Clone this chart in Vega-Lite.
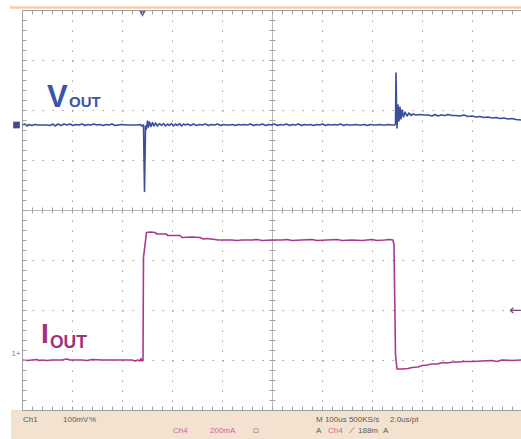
{
  "$schema": "https://vega.github.io/schema/vega-lite/v6.json",
  "width": 499,
  "height": 400,
  "autosize": "none",
  "padding": {"left": 22, "top": 10, "right": 0, "bottom": 29},
  "background": "white",
  "config": {
    "view": {"stroke": null},
    "axis": {"labels": false, "title": null, "grid": false, "ticks": false, "domain": false}
  },
  "datasets": {
    "traces": [
      {"series": "Vout", "t": 0, "v": 1.70}, {"series": "Vout", "t": 6, "v": 1.72}, {"series": "Vout", "t": 10, "v": 1.68}, {"series": "Vout", "t": 14, "v": 1.71}, {"series": "Vout", "t": 20, "v": 1.69}, {"series": "Vout", "t": 26, "v": 1.71}, {"series": "Vout", "t": 32, "v": 1.70}, {"series": "Vout", "t": 40, "v": 1.70}, {"series": "Vout", "t": 50, "v": 1.70}, {"series": "Vout", "t": 56, "v": 1.69}, {"series": "Vout", "t": 62, "v": 1.72}, {"series": "Vout", "t": 66, "v": 1.68}, {"series": "Vout", "t": 72, "v": 1.72}, {"series": "Vout", "t": 78, "v": 1.69}, {"series": "Vout", "t": 84, "v": 1.72}, {"series": "Vout", "t": 90, "v": 1.70}, {"series": "Vout", "t": 96, "v": 1.72}, {"series": "Vout", "t": 102, "v": 1.69}, {"series": "Vout", "t": 108, "v": 1.71}, {"series": "Vout", "t": 114, "v": 1.70}, {"series": "Vout", "t": 120, "v": 1.72}, {"series": "Vout", "t": 126, "v": 1.69}, {"series": "Vout", "t": 132, "v": 1.71}, {"series": "Vout", "t": 138, "v": 1.70}, {"series": "Vout", "t": 144, "v": 1.72}, {"series": "Vout", "t": 150, "v": 1.70}, {"series": "Vout", "t": 156, "v": 1.71}, {"series": "Vout", "t": 162, "v": 1.69}, {"series": "Vout", "t": 168, "v": 1.71}, {"series": "Vout", "t": 174, "v": 1.70}, {"series": "Vout", "t": 180, "v": 1.72}, {"series": "Vout", "t": 186, "v": 1.69}, {"series": "Vout", "t": 192, "v": 1.70}, {"series": "Vout", "t": 200, "v": 1.71}, {"series": "Vout", "t": 210, "v": 1.70}, {"series": "Vout", "t": 220, "v": 1.70}, {"series": "Vout", "t": 230, "v": 1.70}, {"series": "Vout", "t": 236, "v": 1.71}, {"series": "Vout", "t": 240, "v": 1.68}, {"series": "Vout", "t": 243, "v": 1.70}, {"series": "Vout", "t": 245, "v": 0.37}, {"series": "Vout", "t": 247, "v": 1.68}, {"series": "Vout", "t": 249, "v": 1.62}, {"series": "Vout", "t": 251, "v": 1.78}, {"series": "Vout", "t": 253, "v": 1.66}, {"series": "Vout", "t": 255, "v": 1.76}, {"series": "Vout", "t": 258, "v": 1.67}, {"series": "Vout", "t": 261, "v": 1.75}, {"series": "Vout", "t": 264, "v": 1.68}, {"series": "Vout", "t": 267, "v": 1.74}, {"series": "Vout", "t": 271, "v": 1.68}, {"series": "Vout", "t": 275, "v": 1.73}, {"series": "Vout", "t": 279, "v": 1.69}, {"series": "Vout", "t": 283, "v": 1.73}, {"series": "Vout", "t": 287, "v": 1.68}, {"series": "Vout", "t": 291, "v": 1.72}, {"series": "Vout", "t": 295, "v": 1.69}, {"series": "Vout", "t": 299, "v": 1.73}, {"series": "Vout", "t": 303, "v": 1.68}, {"series": "Vout", "t": 307, "v": 1.72}, {"series": "Vout", "t": 311, "v": 1.69}, {"series": "Vout", "t": 315, "v": 1.73}, {"series": "Vout", "t": 319, "v": 1.68}, {"series": "Vout", "t": 323, "v": 1.72}, {"series": "Vout", "t": 327, "v": 1.70}, {"series": "Vout", "t": 331, "v": 1.72}, {"series": "Vout", "t": 337, "v": 1.69}, {"series": "Vout", "t": 343, "v": 1.72}, {"series": "Vout", "t": 349, "v": 1.69}, {"series": "Vout", "t": 355, "v": 1.71}, {"series": "Vout", "t": 361, "v": 1.70}, {"series": "Vout", "t": 367, "v": 1.72}, {"series": "Vout", "t": 373, "v": 1.69}, {"series": "Vout", "t": 379, "v": 1.71}, {"series": "Vout", "t": 385, "v": 1.70}, {"series": "Vout", "t": 391, "v": 1.72}, {"series": "Vout", "t": 397, "v": 1.69}, {"series": "Vout", "t": 403, "v": 1.71}, {"series": "Vout", "t": 409, "v": 1.70}, {"series": "Vout", "t": 415, "v": 1.70}, {"series": "Vout", "t": 421, "v": 1.71}, {"series": "Vout", "t": 427, "v": 1.69}, {"series": "Vout", "t": 433, "v": 1.71}, {"series": "Vout", "t": 439, "v": 1.70}, {"series": "Vout", "t": 445, "v": 1.71}, {"series": "Vout", "t": 451, "v": 1.70}, {"series": "Vout", "t": 457, "v": 1.72}, {"series": "Vout", "t": 463, "v": 1.69}, {"series": "Vout", "t": 469, "v": 1.71}, {"series": "Vout", "t": 475, "v": 1.70}, {"series": "Vout", "t": 481, "v": 1.72}, {"series": "Vout", "t": 487, "v": 1.69}, {"series": "Vout", "t": 493, "v": 1.71}, {"series": "Vout", "t": 499, "v": 1.70}, {"series": "Vout", "t": 505, "v": 1.72}, {"series": "Vout", "t": 511, "v": 1.69}, {"series": "Vout", "t": 517, "v": 1.71}, {"series": "Vout", "t": 523, "v": 1.70}, {"series": "Vout", "t": 529, "v": 1.72}, {"series": "Vout", "t": 535, "v": 1.69}, {"series": "Vout", "t": 541, "v": 1.71}, {"series": "Vout", "t": 547, "v": 1.70}, {"series": "Vout", "t": 553, "v": 1.72}, {"series": "Vout", "t": 559, "v": 1.69}, {"series": "Vout", "t": 565, "v": 1.71}, {"series": "Vout", "t": 571, "v": 1.70}, {"series": "Vout", "t": 577, "v": 1.71}, {"series": "Vout", "t": 583, "v": 1.69}, {"series": "Vout", "t": 589, "v": 1.71}, {"series": "Vout", "t": 595, "v": 1.70}, {"series": "Vout", "t": 601, "v": 1.72}, {"series": "Vout", "t": 607, "v": 1.69}, {"series": "Vout", "t": 613, "v": 1.71}, {"series": "Vout", "t": 619, "v": 1.70}, {"series": "Vout", "t": 625, "v": 1.71}, {"series": "Vout", "t": 631, "v": 1.70}, {"series": "Vout", "t": 637, "v": 1.72}, {"series": "Vout", "t": 643, "v": 1.69}, {"series": "Vout", "t": 649, "v": 1.71}, {"series": "Vout", "t": 655, "v": 1.70}, {"series": "Vout", "t": 661, "v": 1.70}, {"series": "Vout", "t": 667, "v": 1.71}, {"series": "Vout", "t": 673, "v": 1.70}, {"series": "Vout", "t": 679, "v": 1.70}, {"series": "Vout", "t": 685, "v": 1.71}, {"series": "Vout", "t": 691, "v": 1.69}, {"series": "Vout", "t": 697, "v": 1.71}, {"series": "Vout", "t": 703, "v": 1.70}, {"series": "Vout", "t": 709, "v": 1.70}, {"series": "Vout", "t": 715, "v": 1.71}, {"series": "Vout", "t": 721, "v": 1.70}, {"series": "Vout", "t": 727, "v": 1.70}, {"series": "Vout", "t": 733, "v": 1.71}, {"series": "Vout", "t": 739, "v": 1.70}, {"series": "Vout", "t": 745, "v": 1.70},
      {"series": "Vout", "t": 747, "v": 1.72}, {"series": "Vout", "t": 748, "v": 2.74}, {"series": "Vout", "t": 749, "v": 2.10}, {"series": "Vout", "t": 750, "v": 1.64}, {"series": "Vout", "t": 752, "v": 2.10}, {"series": "Vout", "t": 754, "v": 1.78}, {"series": "Vout", "t": 756, "v": 2.06}, {"series": "Vout", "t": 758, "v": 1.82}, {"series": "Vout", "t": 760, "v": 2.00}, {"series": "Vout", "t": 763, "v": 1.86}, {"series": "Vout", "t": 766, "v": 1.96}, {"series": "Vout", "t": 770, "v": 1.88}, {"series": "Vout", "t": 774, "v": 1.94}, {"series": "Vout", "t": 778, "v": 1.89}, {"series": "Vout", "t": 782, "v": 1.92}, {"series": "Vout", "t": 788, "v": 1.90}, {"series": "Vout", "t": 796, "v": 1.91}, {"series": "Vout", "t": 804, "v": 1.90}, {"series": "Vout", "t": 812, "v": 1.90}, {"series": "Vout", "t": 820, "v": 1.88}, {"series": "Vout", "t": 826, "v": 1.91}, {"series": "Vout", "t": 832, "v": 1.88}, {"series": "Vout", "t": 838, "v": 1.90}, {"series": "Vout", "t": 846, "v": 1.89}, {"series": "Vout", "t": 852, "v": 1.91}, {"series": "Vout", "t": 860, "v": 1.89}, {"series": "Vout", "t": 868, "v": 1.89}, {"series": "Vout", "t": 876, "v": 1.88}, {"series": "Vout", "t": 884, "v": 1.90}, {"series": "Vout", "t": 892, "v": 1.87}, {"series": "Vout", "t": 900, "v": 1.88}, {"series": "Vout", "t": 908, "v": 1.86}, {"series": "Vout", "t": 916, "v": 1.87}, {"series": "Vout", "t": 924, "v": 1.85}, {"series": "Vout", "t": 932, "v": 1.86}, {"series": "Vout", "t": 940, "v": 1.84}, {"series": "Vout", "t": 948, "v": 1.85}, {"series": "Vout", "t": 956, "v": 1.83}, {"series": "Vout", "t": 964, "v": 1.84}, {"series": "Vout", "t": 972, "v": 1.82}, {"series": "Vout", "t": 980, "v": 1.83}, {"series": "Vout", "t": 988, "v": 1.81}, {"series": "Vout", "t": 998, "v": 1.80},
      {"series": "Iout", "t": 0, "v": -3.00}, {"series": "Iout", "t": 10, "v": -3.01}, {"series": "Iout", "t": 20, "v": -3.00}, {"series": "Iout", "t": 30, "v": -2.99}, {"series": "Iout", "t": 34, "v": -3.01}, {"series": "Iout", "t": 40, "v": -3.00}, {"series": "Iout", "t": 50, "v": -3.01}, {"series": "Iout", "t": 60, "v": -3.00}, {"series": "Iout", "t": 80, "v": -3.00}, {"series": "Iout", "t": 90, "v": -2.98}, {"series": "Iout", "t": 96, "v": -3.00}, {"series": "Iout", "t": 120, "v": -3.00}, {"series": "Iout", "t": 130, "v": -3.01}, {"series": "Iout", "t": 140, "v": -2.99}, {"series": "Iout", "t": 160, "v": -3.00}, {"series": "Iout", "t": 180, "v": -3.00}, {"series": "Iout", "t": 200, "v": -3.00}, {"series": "Iout", "t": 220, "v": -3.00}, {"series": "Iout", "t": 226, "v": -3.02}, {"series": "Iout", "t": 232, "v": -3.00}, {"series": "Iout", "t": 236, "v": -3.02}, {"series": "Iout", "t": 238, "v": -2.97}, {"series": "Iout", "t": 240, "v": -3.02}, {"series": "Iout", "t": 242, "v": -3.00}, {"series": "Iout", "t": 243, "v": -0.95}, {"series": "Iout", "t": 249, "v": -0.45}, {"series": "Iout", "t": 256, "v": -0.44}, {"series": "Iout", "t": 266, "v": -0.45}, {"series": "Iout", "t": 270, "v": -0.48}, {"series": "Iout", "t": 288, "v": -0.48}, {"series": "Iout", "t": 292, "v": -0.51}, {"series": "Iout", "t": 316, "v": -0.51}, {"series": "Iout", "t": 320, "v": -0.55}, {"series": "Iout", "t": 340, "v": -0.54}, {"series": "Iout", "t": 356, "v": -0.55}, {"series": "Iout", "t": 362, "v": -0.58}, {"series": "Iout", "t": 370, "v": -0.57}, {"series": "Iout", "t": 386, "v": -0.59}, {"series": "Iout", "t": 392, "v": -0.60}, {"series": "Iout", "t": 420, "v": -0.60}, {"series": "Iout", "t": 430, "v": -0.61}, {"series": "Iout", "t": 440, "v": -0.60}, {"series": "Iout", "t": 460, "v": -0.60}, {"series": "Iout", "t": 470, "v": -0.59}, {"series": "Iout", "t": 480, "v": -0.61}, {"series": "Iout", "t": 500, "v": -0.60}, {"series": "Iout", "t": 520, "v": -0.60}, {"series": "Iout", "t": 530, "v": -0.59}, {"series": "Iout", "t": 540, "v": -0.61}, {"series": "Iout", "t": 560, "v": -0.60}, {"series": "Iout", "t": 580, "v": -0.59}, {"series": "Iout", "t": 590, "v": -0.61}, {"series": "Iout", "t": 610, "v": -0.60}, {"series": "Iout", "t": 630, "v": -0.59}, {"series": "Iout", "t": 640, "v": -0.61}, {"series": "Iout", "t": 660, "v": -0.60}, {"series": "Iout", "t": 680, "v": -0.61}, {"series": "Iout", "t": 700, "v": -0.59}, {"series": "Iout", "t": 710, "v": -0.61}, {"series": "Iout", "t": 725, "v": -0.60}, {"series": "Iout", "t": 735, "v": -0.59}, {"series": "Iout", "t": 742, "v": -0.60},
      {"series": "Iout", "t": 744, "v": -0.70}, {"series": "Iout", "t": 747, "v": -2.90}, {"series": "Iout", "t": 750, "v": -3.18}, {"series": "Iout", "t": 760, "v": -3.18}, {"series": "Iout", "t": 772, "v": -3.17}, {"series": "Iout", "t": 780, "v": -3.15}, {"series": "Iout", "t": 792, "v": -3.14}, {"series": "Iout", "t": 800, "v": -3.11}, {"series": "Iout", "t": 810, "v": -3.10}, {"series": "Iout", "t": 820, "v": -3.08}, {"series": "Iout", "t": 830, "v": -3.08}, {"series": "Iout", "t": 842, "v": -3.05}, {"series": "Iout", "t": 850, "v": -3.06}, {"series": "Iout", "t": 862, "v": -3.04}, {"series": "Iout", "t": 872, "v": -3.04}, {"series": "Iout", "t": 884, "v": -3.03}, {"series": "Iout", "t": 902, "v": -3.03}, {"series": "Iout", "t": 920, "v": -3.02}, {"series": "Iout", "t": 940, "v": -3.01}, {"series": "Iout", "t": 950, "v": -3.03}, {"series": "Iout", "t": 960, "v": -3.00}, {"series": "Iout", "t": 980, "v": -3.01}, {"series": "Iout", "t": 998, "v": -3.00}
    ],
    "status": [
      {"text": "Ch1", "t": 2, "v": -4.24, "ch": 1},
      {"text": "100mV", "t": 82, "v": -4.24, "ch": 1},
      {"text": "%", "t": 134, "v": -4.24, "ch": 1},
      {"text": "M 100us 500KS/s", "t": 588, "v": -4.24, "ch": 1},
      {"text": "2.0us/pt", "t": 736, "v": -4.24, "ch": 1},
      {"text": "A", "t": 588, "v": -4.46, "ch": 1},
      {"text": "⟋", "t": 654, "v": -4.46, "ch": 1},
      {"text": "188m", "t": 672, "v": -4.46, "ch": 1},
      {"text": "A", "t": 722, "v": -4.46, "ch": 1},
      {"text": "Ch4", "t": 302, "v": -4.46, "ch": 4},
      {"text": "200mA", "t": 376, "v": -4.46, "ch": 4},
      {"text": "Ω", "t": 462, "v": -4.46, "ch": 4},
      {"text": "Ch4", "t": 612, "v": -4.46, "ch": 4}
    ]
  },
  "resolve": {"axis": {"x": "independent", "y": "independent"}},
  "layer": [
    {
      "data": {"values": [{}]},
      "mark": {"type": "rect", "color": "#f3e2cf"},
      "encoding": {
        "x": {"datum": -22, "type": "quantitative", "axis": null, "scale": {"domain": [0, 998], "nice": false, "zero": false}},
        "x2": {"datum": 998},
        "y": {"datum": -4.0, "type": "quantitative", "axis": null, "scale": {"domain": [-4, 4], "nice": false, "zero": false}},
        "y2": {"datum": -4.6}
      }
    },
    {
      "data": {"values": [{}]},
      "mark": {"type": "rule", "color": "#f5cfa6", "strokeWidth": 2.5},
      "encoding": {
        "x": {"datum": -24, "type": "quantitative", "axis": null},
        "x2": {"datum": 998},
        "y": {"datum": 4.05, "type": "quantitative", "axis": null}
      }
    },
    {
      "data": {"name": "traces"},
      "mark": {"type": "line", "strokeWidth": 1.6, "strokeJoin": "round"},
      "encoding": {
        "x": {"field": "t", "type": "quantitative", "axis": {"orient": "bottom", "grid": true, "tickCount": 10, "gridDash": [1.5, 8.5], "gridColor": "#a0a0a0", "gridWidth": 1}},
        "y": {"field": "v", "type": "quantitative", "axis": {"orient": "left", "grid": true, "tickCount": 8, "gridDash": [1.5, 8.5], "gridColor": "#a0a0a0", "gridWidth": 1}},
        "color": {"field": "series", "type": "nominal", "legend": null, "scale": {"domain": ["Vout", "Iout"], "range": ["#3b4d9c", "#ab3890"]}},
        "order": {"field": "t", "type": "quantitative"}
      }
    },
    {
      "data": {"values": [{}]},
      "mark": {"type": "point", "opacity": 0},
      "encoding": {
        "x": {"datum": 500, "type": "quantitative", "axis": {"orient": "top", "offset": -200, "tickCount": 50, "ticks": true, "tickSize": 3, "tickColor": "#a0a0a0", "domain": true, "domainColor": "#b8b8b8"}},
        "y": {"datum": 0, "type": "quantitative", "axis": {"orient": "left", "offset": -250, "tickCount": 40, "ticks": true, "tickSize": 3, "tickColor": "#a0a0a0", "domain": true, "domainColor": "#b8b8b8"}}
      }
    },
    {
      "data": {"values": [{}]},
      "mark": {"type": "point", "opacity": 0},
      "encoding": {
        "x": {"datum": 500, "type": "quantitative", "axis": {"orient": "bottom", "offset": -200, "tickCount": 50, "ticks": true, "tickSize": 3, "tickColor": "#a0a0a0"}},
        "y": {"datum": 0, "type": "quantitative", "axis": {"orient": "right", "offset": -249, "tickCount": 40, "ticks": true, "tickSize": 3, "tickColor": "#a0a0a0"}}
      }
    },
    {
      "data": {"values": [{}]},
      "mark": {"type": "point", "opacity": 0},
      "encoding": {
        "x": {"datum": 500, "type": "quantitative", "axis": {"orient": "top", "offset": 0, "tickCount": 50, "ticks": true, "tickSize": -4, "tickColor": "#a0a0a0", "domain": true, "domainColor": "#a0a0a0", "zindex": 1}},
        "y": {"datum": 0, "type": "quantitative", "axis": {"orient": "left", "offset": 0, "tickCount": 40, "ticks": true, "tickSize": -4, "tickColor": "#a0a0a0", "domain": true, "domainColor": "#a0a0a0", "zindex": 1}}
      }
    },
    {
      "data": {"values": [{}]},
      "mark": {"type": "point", "opacity": 0},
      "encoding": {
        "x": {"datum": 500, "type": "quantitative", "axis": {"orient": "bottom", "offset": 0, "tickCount": 50, "ticks": true, "tickSize": -4, "tickColor": "#a0a0a0", "domain": true, "domainColor": "#a0a0a0", "zindex": 1}},
        "y": {"datum": 0, "type": "quantitative", "axis": null}
      }
    },
    {
      "data": {"values": [{"t": -11, "v": 1.7}]},
      "mark": {"type": "point", "shape": "square", "filled": true, "size": 45, "color": "#3b4d9c", "opacity": 1},
      "encoding": {
        "x": {"field": "t", "type": "quantitative", "axis": null},
        "y": {"field": "v", "type": "quantitative", "axis": null}
      }
    },
    {
      "data": {"values": [{"t": 241, "v": 3.93}]},
      "mark": {"type": "point", "shape": "triangle-down", "filled": true, "size": 55, "color": "#4a62b0", "opacity": 1},
      "encoding": {
        "x": {"field": "t", "type": "quantitative", "axis": null},
        "y": {"field": "v", "type": "quantitative", "axis": null}
      }
    },
    {
      "data": {"values": [{"label": "V", "t": 50, "v": 2.06}]},
      "mark": {"type": "text", "align": "left", "baseline": "alphabetic", "font": "Liberation Sans", "fontWeight": "bold", "fontSize": 31, "color": "#3d55a5"},
      "encoding": {
        "x": {"field": "t", "type": "quantitative", "axis": null},
        "y": {"field": "v", "type": "quantitative", "axis": null},
        "text": {"field": "label"}
      }
    },
    {
      "data": {"values": [{"label": "OUT", "t": 94, "v": 2.06}]},
      "mark": {"type": "text", "align": "left", "baseline": "alphabetic", "font": "Liberation Sans", "fontWeight": "bold", "fontSize": 15, "color": "#3d55a5"},
      "encoding": {
        "x": {"field": "t", "type": "quantitative", "axis": null},
        "y": {"field": "v", "type": "quantitative", "axis": null},
        "text": {"field": "label"}
      }
    },
    {
      "data": {"values": [{"label": "I", "t": 38, "v": -2.66}]},
      "mark": {"type": "text", "align": "left", "baseline": "alphabetic", "font": "Liberation Sans", "fontWeight": "bold", "fontSize": 28, "color": "#a3307f"},
      "encoding": {
        "x": {"field": "t", "type": "quantitative", "axis": null},
        "y": {"field": "v", "type": "quantitative", "axis": null},
        "text": {"field": "label"}
      }
    },
    {
      "data": {"values": [{"label": "OUT", "t": 56, "v": -2.76}]},
      "mark": {"type": "text", "align": "left", "baseline": "alphabetic", "font": "Liberation Sans", "fontWeight": "bold", "fontSize": 17.5, "color": "#a3307f"},
      "encoding": {
        "x": {"field": "t", "type": "quantitative", "axis": null},
        "y": {"field": "v", "type": "quantitative", "axis": null},
        "text": {"field": "label"}
      }
    },
    {
      "data": {"name": "status"},
      "transform": [{"filter": "datum.ch == 1"}],
      "mark": {"type": "text", "align": "left", "baseline": "alphabetic", "font": "Liberation Sans", "fontSize": 8, "color": "#5a5a5a"},
      "encoding": {
        "x": {"field": "t", "type": "quantitative", "axis": null},
        "y": {"field": "v", "type": "quantitative", "axis": null},
        "text": {"field": "text"}
      }
    },
    {
      "data": {"name": "status"},
      "transform": [{"filter": "datum.ch == 4"}],
      "mark": {"type": "text", "align": "left", "baseline": "alphabetic", "font": "Liberation Sans", "fontSize": 8, "color": "#d0649c"},
      "encoding": {
        "x": {"field": "t", "type": "quantitative", "axis": null},
        "y": {"field": "v", "type": "quantitative", "axis": null},
        "text": {"field": "text"}
      }
    },
    {
      "data": {"values": [{"label": "1+", "t": -21, "v": -2.92}]},
      "mark": {"type": "text", "align": "left", "baseline": "alphabetic", "font": "Liberation Sans", "fontSize": 8, "color": "#9a6f94"},
      "encoding": {
        "x": {"field": "t", "type": "quantitative", "axis": null},
        "y": {"field": "v", "type": "quantitative", "axis": null},
        "text": {"field": "label"}
      }
    },
    {
      "data": {"values": [{"label": "←", "t": 974, "v": -2.0}]},
      "mark": {"type": "text", "align": "left", "baseline": "middle", "font": "DejaVu Sans", "fontSize": 15, "color": "#7a4470"},
      "encoding": {
        "x": {"field": "t", "type": "quantitative", "axis": null},
        "y": {"field": "v", "type": "quantitative", "axis": null},
        "text": {"field": "label"}
      }
    }
  ]
}
